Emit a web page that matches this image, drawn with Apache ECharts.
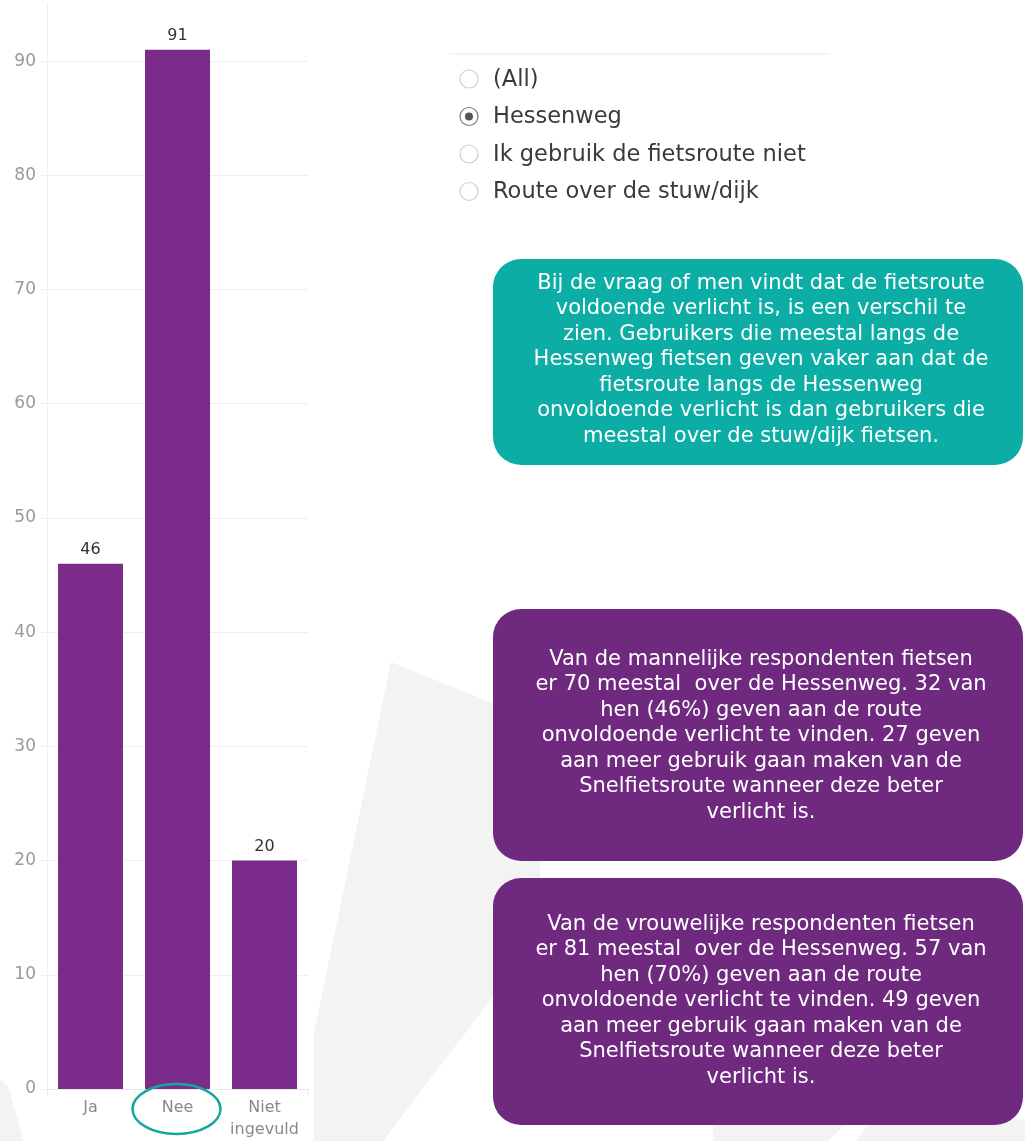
<!DOCTYPE html>
<html>
<head>
<meta charset="utf-8">
<script src="https://cdn.jsdelivr.net/npm/echarts@6/dist/echarts.min.js"></script>
<style>
  html, body { margin: 0; padding: 0; background: #ffffff; }
  #chart { width: 1025px; height: 1141px; }
</style>
</head>
<body>
<div id="chart"></div>
<script>
// ---- data ----
const categories = ['Ja', 'Nee', 'Niet\ningevuld'];
const counts = [46, 91, 20];
const highlightedCategory = 'Nee';
const yMin = 0;
const yMax = 95;
const yInterval = 10;

const filterOptions = ['(All)', 'Hessenweg', 'Ik gebruik de fietsroute niet', 'Route over de stuw/dijk'];
const selectedFilter = 'Hessenweg';

const noteTeal = [
  'Bij de vraag of men vindt dat de fietsroute',
  'voldoende verlicht is, is een verschil te',
  'zien. Gebruikers die meestal langs de',
  'Hessenweg fietsen geven vaker aan dat de',
  'fietsroute langs de Hessenweg',
  'onvoldoende verlicht is dan gebruikers die',
  'meestal over de stuw/dijk fietsen.'
];
const noteMen = [
  'Van de mannelijke respondenten fietsen',
  'er 70 meestal  over de Hessenweg. 32 van',
  'hen (46%) geven aan de route',
  'onvoldoende verlicht te vinden. 27 geven',
  'aan meer gebruik gaan maken van de',
  'Snelfietsroute wanneer deze beter',
  'verlicht is.'
];
const noteWomen = [
  'Van de vrouwelijke respondenten fietsen',
  'er 81 meestal  over de Hessenweg. 57 van',
  'hen (70%) geven aan de route',
  'onvoldoende verlicht te vinden. 49 geven',
  'aan meer gebruik gaan maken van de',
  'Snelfietsroute wanneer deze beter',
  'verlicht is.'
];

// ---- styles ----
const BAR = '#7b2c8b';
const TEAL = '#0badA5';
const PURPLE = '#6f2a7f';
const GRID = '#efefef';
const WM = '#f3f3f3';
const FONT = '"DejaVu Sans", "Open Sans", sans-serif';
const BOXFONT = '"DejaVu Sans", "Open Sans", sans-serif';

const chart = echarts.init(document.getElementById('chart'), null, { renderer: 'canvas' });

// split line colours: last (top extent) hidden
const nLines = Math.floor((yMax - yMin) / yInterval) + 2;
const splitColors = [];
for (let i = 0; i < nLines; i++) splitColors.push(i === nLines - 1 ? 'rgba(0,0,0,0)' : GRID);

function noteBox(y, h, color, lines, cy) {
  return {
    type: 'group',
    children: [
      { type: 'rect', shape: { x: 493, y: y, width: 530, height: h, r: 28 }, style: { fill: color }, z: 5 },
      { type: 'text', x: 761, y: cy, z: 6,
        style: { text: lines.join('\n'), align: 'center', verticalAlign: 'middle',
                 font: '21px ' + BOXFONT, lineHeight: 25.5, fill: '#ffffff' } }
    ]
  };
}

const radioGraphics = [];
radioGraphics.push({ type: 'line', shape: { x1: 449, y1: 54, x2: 830, y2: 54 }, style: { stroke: '#f0f0f0', lineWidth: 1.5 } });
filterOptions.forEach(function (name, i) {
  const cy = 79 + i * 37.5;
  const sel = name === selectedFilter;
  radioGraphics.push({ type: 'circle', shape: { cx: 469, cy: cy, r: 9 },
    style: { fill: '#ffffff', stroke: sel ? '#777777' : '#cfcfcf', lineWidth: 1.2 } });
  if (sel) radioGraphics.push({ type: 'circle', shape: { cx: 469, cy: cy, r: 4 }, style: { fill: '#555555' } });
  radioGraphics.push({ type: 'text', x: 493, y: cy + 1,
    style: { text: name, font: '22.5px ' + FONT, fill: '#3a3a3a', verticalAlign: 'middle' } });
});

const watermark = [
  { type: 'polygon', z: -10, shape: { points: [[391, 662], [540, 722], [540, 935], [383, 1141], [314, 1141], [314, 1033]] }, style: { fill: WM } },
  { type: 'polygon', z: -10, shape: { points: [[713, 1120], [850, 1120], [828, 1141], [713, 1141]] }, style: { fill: WM } },
  { type: 'polygon', z: -10, shape: { points: [[872, 1120], [1025, 1120], [1025, 1141], [856, 1141]] }, style: { fill: WM } },
  { type: 'polygon', z: -10, shape: { points: [[0, 1080], [8, 1086], [24, 1141], [0, 1141]] }, style: { fill: WM } }
];

const option = {
  backgroundColor: '#ffffff',
  animation: false,
  grid: { left: 47, right: 717, top: 4, bottom: 1141 - 1089, containLabel: false },
  xAxis: {
    type: 'category',
    data: categories,
    axisLine: { show: true, lineStyle: { color: '#e8e8e8', width: 1 } },
    axisTick: { show: true, length: 6, lineStyle: { color: '#ececec' } },
    axisLabel: { interval: 0, hideOverlap: false, color: '#8a8a8a', fontSize: 16, fontFamily: FONT, margin: 8, lineHeight: 22 },
    splitLine: { show: false }
  },
  yAxis: {
    type: 'value',
    min: yMin, max: yMax, interval: yInterval,
    axisLine: { show: true, lineStyle: { color: '#f0f0f0', width: 1 } },
    axisTick: { show: true, length: 7, lineStyle: { color: '#f0f0f0' } },
    axisLabel: { color: '#999999', fontSize: 17, fontFamily: FONT, margin: 11, showMaxLabel: false },
    splitLine: { show: true, lineStyle: { color: splitColors, width: 1 } }
  },
  series: [{
    type: 'bar',
    data: counts,
    barWidth: 65,
    itemStyle: { color: BAR },
    label: { show: true, position: 'top', distance: 6, color: '#333333', fontSize: 16, fontFamily: FONT }
  }],
  graphic: watermark.concat(radioGraphics).concat([
    noteBox(259, 206, TEAL, noteTeal, 360),
    noteBox(609, 252, PURPLE, noteMen, 736),
    noteBox(878, 247, PURPLE, noteWomen, 1001)
  ])
};
chart.setOption(option);

// highlight ellipse around the chosen category label
const hx = chart.convertToPixel({ xAxisIndex: 0 }, highlightedCategory);
chart.setOption({
  graphic: option.graphic.concat([{
    type: 'ellipse', z: 20,
    shape: { cx: hx - 1, cy: 1109, rx: 44, ry: 25 },
    style: { fill: 'none', stroke: '#14a79e', lineWidth: 2.5 }
  }])
});
</script>
</body>
</html>
